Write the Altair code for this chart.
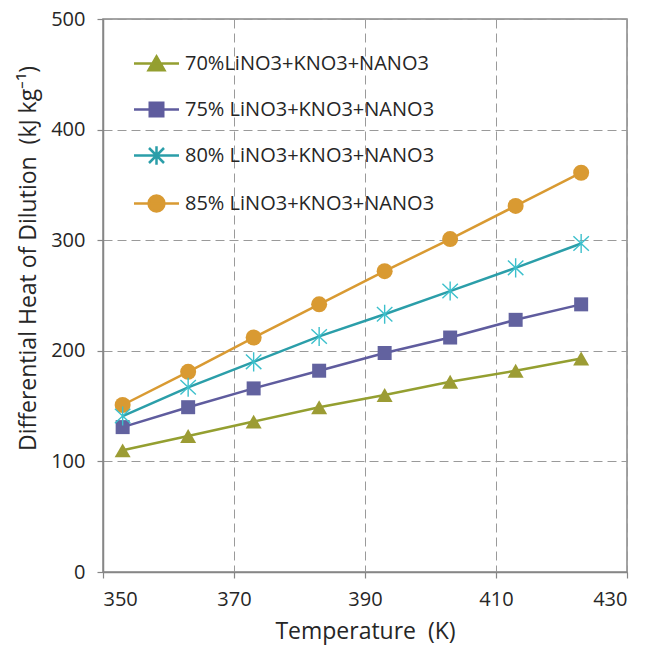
import altair as alt
import pandas as pd

# Temperatures (K) at which each mixture was evaluated
temperature = [353, 363, 373, 383, 393, 403, 413, 423]

series_names = [
    "70%LiNO3+KNO3+NANO3",
    "75% LiNO3+KNO3+NANO3",
    "80% LiNO3+KNO3+NANO3",
    "85% LiNO3+KNO3+NANO3",
]

# Differential heat of dilution (kJ/kg)
heat_70 = [110, 123, 136, 149, 160, 172, 182, 193]
heat_75 = [131, 149, 166, 182, 198, 212, 228, 242]
heat_80 = [141, 167, 190, 213, 233, 254, 275, 297]
heat_85 = [151, 181, 212, 242, 272, 301, 331, 361]

x_ticks = [350, 370, 390, 410, 430]
y_ticks = [0, 100, 200, 300, 400, 500]

line_colors = ["#949f30", "#5f5c9e", "#2b9ea9", "#d99a32"]
marker_colors = ["#9c9c34", "#62629f", "#3cc0cc", "#d99a32"]

FONT = "Open Sans"
NBSP = "\u00a0"

rows = []
for name, values in zip(series_names, [heat_70, heat_75, heat_80, heat_85]):
    for t, v in zip(temperature, values):
        rows.append({"series": name, "temperature": t, "heat": v})
df = pd.DataFrame(rows)

x_enc = alt.X(
    "temperature:Q",
    scale=alt.Scale(domain=[350, 430], nice=False, zero=False),
    axis=alt.Axis(values=x_ticks, title="Temperature" + NBSP + " (K)"),
)
y_enc = alt.Y(
    "heat:Q",
    scale=alt.Scale(domain=[0, 500], nice=False),
    axis=alt.Axis(
        values=y_ticks,
        title="Differential Heat of Dilution" + NBSP + " (kJ kg\u207b\u00b9)",
        titleX=-75,
        titleY=239,
        titleAngle=270,
        titleAlign="center",
        titleBaseline="middle",
    ),
)

base = alt.Chart(df)

# One line per series, each in its own colour
line_layers = []
for name, col in zip(series_names, line_colors):
    line_layers.append(
        base.transform_filter(alt.datum.series == name)
        .mark_line(strokeWidth=2.5, color=col)
        .encode(x=x_enc, y=y_enc)
    )

# Marker shapes per series
ASTERISK = "M0,-1.05V1.05M-0.85,-0.8L0.85,0.8M-0.85,0.8L0.85,-0.8"
marker_specs = [
    (series_names[0], "triangle-up", marker_colors[0], 256),
    (series_names[1], "square", marker_colors[1], 196),
    (series_names[3], "circle", marker_colors[3], 256),
]

marker_layers = []
for name, shape, col, size in marker_specs:
    marker_layers.append(
        base.transform_filter(alt.datum.series == name)
        .mark_point(shape=shape, filled=True, fill=col, size=size, opacity=1, strokeWidth=0)
        .encode(x="temperature:Q", y="heat:Q")
    )

asterisk_layer = (
    base.transform_filter(alt.datum.series == series_names[2])
    .mark_point(shape=ASTERISK, filled=False, stroke=marker_colors[2], strokeWidth=1.4,
                size=330, opacity=1)
    .encode(x="temperature:Q", y="heat:Q")
)

# Legend glyphs: a short line segment with the series marker on it
SEG = "M-1.5,0H1.5"
legend_shapes = [
    SEG + "M0,-0.47L0.53,0.45L-0.53,0.45Z",
    SEG + "M-0.45,-0.45H0.45V0.45H-0.45Z",
    SEG + "M0,-0.62V0.62M-0.5,-0.5L0.5,0.5M-0.5,0.5L0.5,-0.5",
    SEG + "M-0.53,0A0.53,0.53 0 1,0 0.53,0A0.53,0.53 0 1,0 -0.53,0Z",
]

legend_def = alt.Legend(
    title=None,
    orient="none",
    direction="vertical",
    legendX=37,
    legendY=28,
    padding=0,
    symbolSize=900,
    symbolStrokeWidth=2.5,
    symbolFillColor="#000000",
    labelOffset=12,
    rowPadding=17,
    labelFont=FONT,
    labelFontSize=20,
    labelColor="#262626",
    labelLimit=400,
)

legend_layer = base.mark_point(filled=True, opacity=0).encode(
    x="temperature:Q",
    y="heat:Q",
    fill=alt.Fill("series:N", scale=alt.Scale(domain=series_names, range=line_colors), legend=legend_def),
    stroke=alt.Stroke("series:N", scale=alt.Scale(domain=series_names, range=line_colors), legend=legend_def),
    shape=alt.Shape("series:N", scale=alt.Scale(domain=series_names, range=legend_shapes), legend=legend_def),
)

chart = (
    alt.layer(*line_layers, *marker_layers, asterisk_layer, legend_layer)
    .properties(
        width=524,
        height=553,
        autosize=alt.AutoSizeParams(type="none"),
        padding={"left": 103, "top": 19, "right": 34, "bottom": 81},
        background="white",
    )
    .configure_view(stroke="#868686", strokeWidth=1.5)
    .configure_axis(
        domainColor="#868686",
        domainWidth=1.5,
        tickColor="#868686",
        tickWidth=1.2,
        tickSize=6,
        grid=True,
        gridColor="#9a9a9a",
        gridDash=[9, 5],
        gridWidth=1,
        labelFont=FONT,
        labelFontSize=20,
        labelColor="#262626",
        titleFont=FONT,
        titleFontSize=23,
        titleFontWeight="normal",
        titleColor="#262626",
    )
    .configure_axisX(labelPadding=11, titlePadding=11)
    .configure_axisY(labelPadding=12)
)

chart.save("out.html", embed_options={"renderer": "svg", "actions": False})
